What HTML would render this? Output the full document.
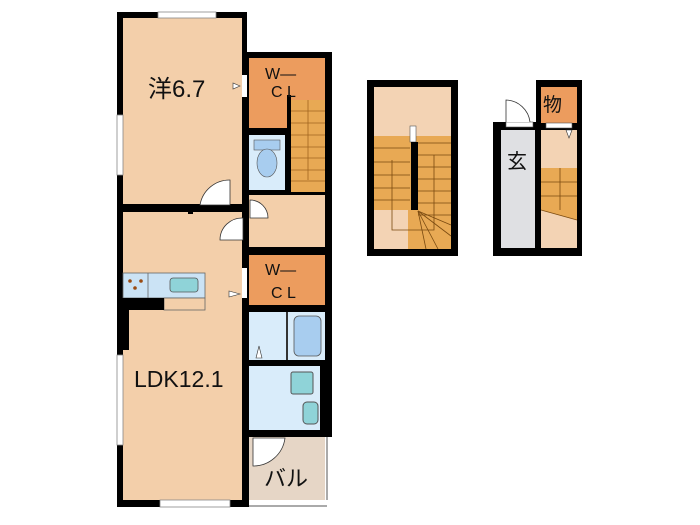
<!DOCTYPE html>
<html><head><meta charset="utf-8"><style>
html,body{margin:0;padding:0;background:#fff;width:700px;height:525px;overflow:hidden}
svg{display:block}
text{font-family:"Liberation Sans","Noto Sans CJK JP",sans-serif;fill:#111}
</style></head><body>
<svg width="700" height="525" viewBox="0 0 700 525" xmlns="http://www.w3.org/2000/svg">
<rect x="117" y="12" width="130" height="495" fill="#000"/>
<rect x="242" y="52" width="90" height="455" fill="#000"/>
<rect x="123" y="18" width="119" height="186" fill="#f3cfaa"/>
<rect x="123" y="212" width="119" height="288" fill="#f3cfaa"/>
<rect x="158" y="12" width="58" height="6" fill="#fff" stroke="#888" stroke-width="0.8"/>
<rect x="117" y="115" width="6" height="60" fill="#fff" stroke="#888" stroke-width="0.8"/>
<rect x="117" y="355" width="6" height="90" fill="#fff" stroke="#888" stroke-width="0.8"/>
<rect x="160" y="500" width="70" height="7" fill="#fff" stroke="#888" stroke-width="0.8"/>
<rect x="249" y="58" width="76" height="70" fill="#ec9c5e"/>
<rect x="290" y="100" width="35" height="92" fill="#e8a954"/>
<g stroke="#a0641e" stroke-width="0.8">
<line x1="290" y1="111" x2="325" y2="111"/><line x1="290" y1="123" x2="325" y2="123"/>
<line x1="290" y1="135" x2="325" y2="135"/><line x1="290" y1="147" x2="325" y2="147"/>
<line x1="290" y1="158" x2="325" y2="158"/><line x1="290" y1="170" x2="325" y2="170"/>
<line x1="290" y1="181" x2="325" y2="181"/><line x1="308" y1="100" x2="308" y2="180"/>
</g>
<rect x="287" y="95" width="4" height="100" fill="#000"/>
<rect x="249" y="135" width="36" height="60" fill="#d9ecfa"/>
<rect x="254" y="140" width="26" height="10" fill="#a8cdef" stroke="#555" stroke-width="0.6"/>
<ellipse cx="267" cy="163" rx="10" ry="14" fill="#a8cdef" stroke="#555" stroke-width="0.6"/>
<rect x="249" y="195" width="76" height="52" fill="#f3cfaa"/>
<rect x="249" y="190" width="40" height="5" fill="#000"/>
<path d="M250 200 A18 18 0 0 1 268 218 L250 218Z" fill="#fff" stroke="#333" stroke-width="0.8"/>
<rect x="200" y="197" width="30" height="8" fill="#f3cfaa"/>
<path d="M230 180 A30 30 0 0 0 200 205 L230 205Z" fill="#fff" stroke="#333" stroke-width="0.8"/>
<rect x="188" y="204" width="5" height="10" fill="#000"/>
<path d="M243 218 A22 22 0 0 0 220 240 L243 240Z" fill="#fff" stroke="#333" stroke-width="0.8"/>
<rect x="242" y="75" width="5" height="22" fill="#fff"/>
<path d="M240 86 L233 83 L233 89Z" fill="#fff" stroke="#333" stroke-width="0.6"/>
<rect x="249" y="255" width="76" height="50" fill="#ec9c5e"/>
<rect x="242" y="268" width="5" height="30" fill="#fff"/>
<path d="M240 294 L229 291 L229 297Z" fill="#fff" stroke="#333" stroke-width="0.6"/>
<rect x="249" y="312" width="76" height="48" fill="#d9ecfa"/>
<rect x="286" y="312" width="2" height="48" fill="#333"/>
<rect x="294" y="316" width="27" height="40" rx="5" fill="#a8cdef" stroke="#555" stroke-width="0.8"/>
<path d="M256 358 L259 346 L262 358Z" fill="#fff" stroke="#333" stroke-width="0.6"/>
<rect x="249" y="366" width="71" height="64" fill="#d9ecfa"/>
<rect x="291" y="372" width="22" height="22" rx="2" fill="#8fd3d8" stroke="#555" stroke-width="1"/>
<rect x="303" y="402" width="15" height="22" rx="4" fill="#8fd3d8" stroke="#555" stroke-width="1"/>
<rect x="249" y="437" width="76" height="63" fill="#e6d6c6"/>
<rect x="325" y="437" width="7" height="70" fill="#fff"/>
<line x1="327" y1="437" x2="327" y2="507" stroke="#555" stroke-width="1"/>
<rect x="249" y="500" width="83" height="7" fill="#fff"/>
<line x1="249" y1="506" x2="327" y2="506" stroke="#555" stroke-width="1"/>
<path d="M253 438 L285 438 A32 32 0 0 1 253 466Z" fill="#fff" stroke="#333" stroke-width="0.8"/>
<rect x="123" y="273" width="82" height="25" fill="#cbe3f5" stroke="#666" stroke-width="0.8"/>
<line x1="148" y1="273" x2="148" y2="298" stroke="#666" stroke-width="0.8"/>
<rect x="170" y="278" width="28" height="14" rx="3" fill="#8fd3d8" stroke="#555" stroke-width="0.8"/>
<circle cx="130" cy="281" r="1.8" fill="#9a4a10"/><circle cx="141" cy="281" r="1.8" fill="#9a4a10"/><circle cx="135" cy="288" r="1.8" fill="#9a4a10"/>
<rect x="164" y="298" width="41" height="12" fill="#f3cfaa" stroke="#666" stroke-width="0.8"/>
<rect x="117" y="298" width="47" height="12" fill="#000"/>
<rect x="123" y="310" width="6" height="40" fill="#000"/>
<text x="148" y="97" font-size="24">洋6.7</text>
<text x="134" y="387" font-size="23">LDK12.1</text>
<text x="265" y="79" font-size="16">W—</text><text x="271" y="97" font-size="16">C L</text>
<text x="265" y="275" font-size="16">W—</text><text x="271" y="298" font-size="16">C L</text>
<text x="264" y="486" font-size="22">バル</text>
<rect x="367" y="80" width="91" height="176" fill="#000"/>
<rect x="374" y="87" width="77" height="49" fill="#f3d3b4"/>
<rect x="374" y="136" width="77" height="113" fill="#e8a954"/>
<rect x="374" y="210" width="34" height="39" fill="#f3d3b4"/>
<g stroke="#7a4a10" stroke-width="0.8" fill="none">
<line x1="374" y1="148" x2="410" y2="148"/><line x1="374" y1="162" x2="410" y2="162"/><line x1="374" y1="175" x2="410" y2="175"/><line x1="374" y1="188" x2="410" y2="188"/><line x1="374" y1="200" x2="410" y2="200"/>
<line x1="418" y1="143" x2="451" y2="143"/><line x1="418" y1="155" x2="451" y2="155"/><line x1="418" y1="167" x2="451" y2="167"/><line x1="418" y1="179" x2="451" y2="179"/><line x1="418" y1="191" x2="451" y2="191"/><line x1="418" y1="203" x2="451" y2="203"/><line x1="418" y1="215" x2="451" y2="215"/>
<line x1="418" y1="211" x2="451" y2="236"/><line x1="418" y1="211" x2="438" y2="249"/><line x1="418" y1="211" x2="426" y2="249"/><line x1="418" y1="211" x2="451" y2="225"/>
<polyline points="392,160 392,230 434,230 434,155"/>
</g>
<rect x="410" y="126" width="6" height="16" fill="#fff" stroke="#555" stroke-width="0.6"/>
<rect x="411" y="142" width="7" height="68" fill="#000"/>
<rect x="536" y="80" width="46" height="176" fill="#000"/>
<rect x="493" y="122" width="48" height="134" fill="#000"/>
<rect x="541" y="87" width="36" height="36" fill="#ec9c5e"/>
<rect x="501" y="130" width="34" height="118" fill="#dfe0e3"/>
<rect x="541" y="130" width="36" height="118" fill="#f3d3b4"/>
<polygon points="541,168 577,168 577,220 541,210" fill="#e8a954"/>
<g stroke="#7a4a10" stroke-width="0.8" fill="none"><line x1="541" y1="182" x2="577" y2="182"/><line x1="541" y1="196" x2="577" y2="196"/><line x1="560" y1="168" x2="560" y2="210"/><line x1="541" y1="210" x2="577" y2="220"/></g>
<rect x="535" y="168" width="6" height="80" fill="#000"/>
<rect x="506" y="122" width="27" height="5" fill="#fff" stroke="#555" stroke-width="0.6"/>
<path d="M506 122 L506 100 A25 25 0 0 1 530 122" fill="#fff" stroke="#333" stroke-width="0.8"/>
<rect x="546" y="123" width="26" height="5" fill="#fff" stroke="#555" stroke-width="0.6"/>
<path d="M566 130 L569 138 L572 130Z" fill="#fff" stroke="#333" stroke-width="0.6"/>
<text x="543" y="111" font-size="19">物</text>
<text x="507" y="168" font-size="20">玄</text>
</svg>
</body></html>
